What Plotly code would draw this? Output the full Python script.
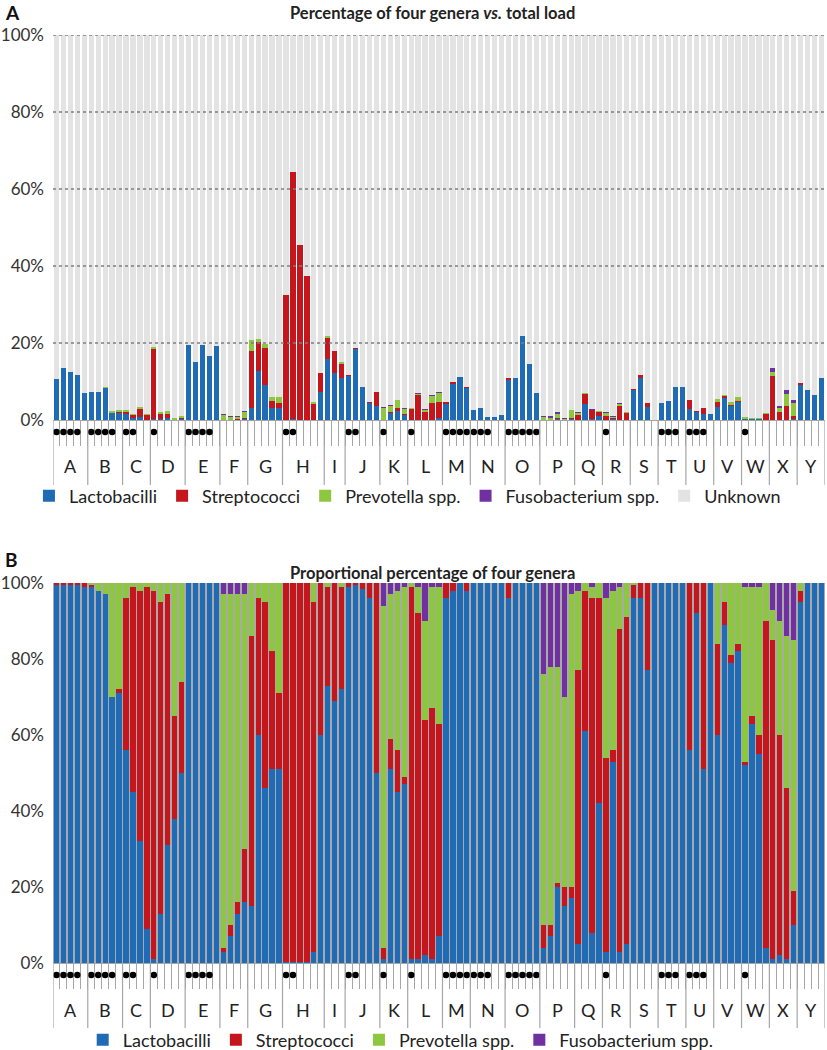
import plotly.graph_objects as go

# ---------------- data ----------------
groups = list("ABCDEFGHIJKLMNOPQRSTUVWXY")
group_sizes = [5, 5, 4, 5, 5, 4, 5, 6, 3, 5, 4, 5, 4, 5, 5, 5, 4, 4, 4, 4, 4, 4, 4, 4, 4]
dot_counts = [4, 4, 2, 1, 4, 0, 0, 2, 0, 2, 1, 1, 4, 3, 5, 0, 0, 1, 0, 3, 3, 0, 1, 0, 0]

y_ticks = [0, 20, 40, 60, 80, 100]
y_tick_labels = ["0%", "20%", "40%", "60%", "80%", "100%"]

# Panel A: percentage of total load
top_lacto = [10.7, 13.6, 12.5, 11.7, 7.0,
             7.4, 7.4, 8.5, 1.7, 1.9,
             1.6, 0.5, 0.9, 0.1,
             0.2, 0.3, 0.6, 0.15, 0.5,
             19.4, 15.0, 19.4, 16.6, 19.2,
             0.05, 0.07, 0.12, 0.3,
             3.1, 12.7, 9.1, 3.1, 3.1,
             0.05, 0.2, 0.1, 0.1, 0.1, 7.4,
             15.9, 12.3, 10.8,
             11.6, 18.7, 8.6, 4.6, 3.6,
             0.02, 1.9, 2.4, 1.4,
             0.02, 0.1, 0.05, 0.05, 0.5,
             4.4, 9.6, 11.1, 8.5,
             2.6, 3.2, 0.9, 0.7, 1.3,
             10.4, 10.9, 21.8, 14.6, 6.9,
             0.05, 0.05, 0.4, 0.1, 0.45,
             0.1, 4.2, 0.2, 1.0,
             0.05, 0.5, 0.1, 0.1,
             7.8, 11.1, 3.3, 0.1,
             4.5, 4.9, 8.7, 8.5,
             2.9, 2.2, 1.6, 1.5,
             3.3, 5.9, 3.7, 4.9,
             0.45, 0.3, 0.3, 0.05,
             0.05, 0.05, 0.05, 0.5,
             9.1, 7.7, 6.4, 10.8]
top_strep = [0, 0, 0, 0, 0,
             0, 0, 0, 0, 0.1,
             0.5, 0.9, 2.2, 1.3,
             18.3, 1.4, 1.2, 0.1, 0.2,
             0, 0, 0, 0, 0,
             0.02, 0.03, 0.03, 0.3,
             14.8, 7.6, 9.7, 1.9, 1.2,
             32.5, 64.3, 45.4, 37.4, 4.3, 4.9,
             5.6, 5.5, 4.0,
             0.1, 0.1, 0.1, 0.2, 3.6,
             0.1, 0.3, 0.6, 0.05,
             3.0, 6.4, 2.1, 4.3, 4.1,
             0.2, 0.2, 0, 0.2,
             0, 0, 0, 0, 0,
             0.5, 0, 0, 0, 0,
             0.03, 0.02, 0.02, 0.03, 0.08,
             1.4, 2.6, 2.5, 1.3,
             1.0, 0.05, 3.6, 1.9,
             0.3, 0.5, 1.0, 0,
             0, 0, 0, 0,
             2.3, 0.2, 1.5, 0,
             1.3, 0.4, 0.1, 0.1,
             0.01, 0.01, 0.03, 1.6,
             11.3, 2.0, 3.5, 0.5,
             0.5, 0, 0, 0]
top_prevo = [0, 0, 0, 0, 0,
             0, 0, 0.2, 0.7, 0.7,
             0.5, 0.05, 0.2, 0.05,
             0.4, 0.4, 0.5, 0.15, 0.3,
             0, 0, 0, 0, 0,
             1.4, 0.8, 0.75, 1.6,
             3.0, 0.8, 1.0, 1.1, 1.8,
             0, 0, 0, 0, 0.3, 0,
             0.2, 0, 0.2,
             0, 0, 0, 0, 0,
             3.0, 1.6, 2.2, 1.5,
             0.02, 0.5, 0.7, 2.1, 2.6,
             0, 0, 0, 0,
             0, 0, 0, 0, 0,
             0, 0, 0, 0, 0,
             0.7, 0.7, 1.2, 0.3, 2.1,
             0.5, 0.1, 0.1, 0.1,
             0.8, 0.4, 0.6, 0.2,
             0.05, 0, 0, 0,
             0, 0, 0, 0,
             0, 0, 0, 0,
             0.9, 0.3, 0.9, 0.9,
             0.4, 0.15, 0.25, 0.2,
             1.1, 1.3, 3.1, 3.3,
             0, 0, 0, 0]
top_fuso = [0, 0, 0, 0, 0,
            0, 0, 0, 0, 0,
            0, 0, 0, 0,
            0, 0, 0, 0, 0,
            0, 0, 0, 0, 0,
            0.05, 0.03, 0.03, 0.05,
            0, 0, 0, 0, 0,
            0, 0, 0, 0, 0, 0,
            0, 0, 0,
            0, 0, 0, 0, 0,
            0.2, 0.1, 0.1, 0.05,
            0, 0.05, 0.05, 0.1, 0.1,
            0, 0, 0, 0,
            0, 0, 0, 0, 0,
            0, 0, 0, 0, 0,
            0.2, 0.2, 0.5, 0.2, 0.08,
            0.05, 0, 0.05, 0,
            0.1, 0.02, 0.05, 0,
            0, 0, 0, 0,
            0, 0, 0, 0,
            0, 0, 0, 0,
            0, 0, 0, 0,
            0, 0, 0, 0,
            1.1, 0.4, 1.1, 0.9,
            0, 0, 0, 0]

# Panel B: proportional percentage of four genera
bot_lacto = [99.5, 99.6, 99.4, 99.5, 99,
             99, 98, 97, 70, 71,
             56, 45, 32, 9,
             1, 13, 31, 38, 50,
             100, 100, 100, 100, 100,
             3, 7, 13, 16,
             15, 60, 46, 51, 51,
             0.2, 0.3, 0.3, 0.3, 3, 60,
             73, 69, 72,
             99, 99.5, 98.5, 96, 50,
             1, 51, 45, 47,
             1, 1, 2, 1, 7,
             96, 98, 100, 98,
             100, 100, 100, 100, 100,
             96, 100, 100, 100, 100,
             4, 7, 20, 15, 17,
             5, 61, 8, 42,
             3, 53, 3, 5,
             96, 96, 77, 100,
             100, 100, 100, 100,
             56, 92, 51, 100,
             60, 89, 79, 82,
             52, 63, 55, 4,
             1, 2, 1, 10,
             95, 100, 100, 100]
bot_strep = [0.5, 0.4, 0.6, 0.5, 1,
             0.5, 0, 0, 0, 1,
             40, 54, 66, 90,
             97, 82, 66, 27, 24,
             0, 0, 0, 0, 0,
             1, 3, 3, 14,
             71, 36, 49, 31, 20,
             99.8, 99.7, 99.7, 99.7, 92, 40,
             26, 31, 27,
             1, 0.5, 1.5, 4, 50,
             3, 8, 11, 2,
             98, 91, 62, 66, 56,
             4, 2, 0, 2,
             0, 0, 0, 0, 0,
             4, 0, 0, 0, 0,
             6, 3, 1, 5, 3,
             72, 37, 88, 54,
             51, 3, 85, 86,
             3.5, 4, 23, 0,
             0, 0, 0, 0,
             44, 8, 49, 0,
             24, 6, 2, 2,
             1, 2, 5, 86,
             84, 58, 45, 9,
             3, 0, 0, 0]
bot_prevo = [0, 0, 0, 0, 0,
             0.5, 2, 3, 30, 28,
             4, 1, 2, 1,
             2, 5, 3, 35, 26,
             0, 0, 0, 0, 0,
             93, 87, 81, 67,
             14, 4, 5, 18, 29,
             0, 0, 0, 0, 5, 0,
             1, 0, 1,
             0, 0, 0, 0, 0,
             90, 38, 42, 50,
             1, 7, 26, 32, 36,
             0, 0, 0, 0,
             0, 0, 0, 0, 0,
             0, 0, 0, 0, 0,
             66, 68, 57, 50, 77,
             21, 2, 3, 4,
             42, 42, 11, 9,
             0.5, 0, 0, 0,
             0, 0, 0, 0,
             0, 0, 0, 0,
             16, 5, 19, 16,
             46, 34, 39, 10,
             8, 30, 40, 66,
             2, 0, 0, 0]
bot_fuso = [0, 0, 0, 0, 0,
            0, 0, 0, 0, 0,
            0, 0, 0, 0,
            0, 0, 0, 0, 0,
            0, 0, 0, 0, 0,
            3, 3, 3, 3,
            0, 0, 0, 0, 0,
            0, 0, 0, 0, 0, 0,
            0, 0, 0,
            0, 0, 0, 0, 0,
            6, 3, 2, 1,
            0, 1, 10, 1, 1,
            0, 0, 0, 0,
            0, 0, 0, 0, 0,
            0, 0, 0, 0, 0,
            24, 22, 22, 30, 3,
            2, 0, 1, 0,
            4, 2, 1, 0,
            0, 0, 0, 0,
            0, 0, 0, 0,
            0, 0, 0, 0,
            0, 0, 0, 0,
            1, 1, 1, 0,
            7, 10, 14, 15,
            0, 0, 0, 0]

series_names = ["Lactobacilli", "Streptococci", "Prevotella spp.", "Fusobacterium spp.", "Unknown"]
series_colors = ["#1F6BB5", "#C4161C", "#8DC63F", "#7030A0", "#E3E3E3"]

# ---------------- figure ----------------
W, H = 827, 1050
n_bars = len(top_lacto)
xs = list(range(n_bars))
top_unknown = [max(0.0, 100 - (a + b + c + d)) for a, b, c, d in zip(top_lacto, top_strep, top_prevo, top_fuso)]

x_left, x_right = 53, 825
top_y0, top_y1 = 35, 420
bot_y0, bot_y1 = 583, 963
top_h = top_y1 - top_y0
bot_h = bot_y1 - bot_y0


def dom(y0, y1):
    return [1 - y1 / H, 1 - y0 / H]


fig = go.Figure()

top_sets = [top_lacto, top_strep, top_prevo, top_fuso, top_unknown]
for name, vals, col in zip(series_names, top_sets, series_colors):
    fig.add_trace(go.Bar(x=xs, y=vals, name=name, marker=dict(color=col, line=dict(width=0)),
                         xaxis="x", yaxis="y", legend="legend", hoverinfo="skip"))

bot_sets = [bot_lacto, bot_strep, bot_prevo, bot_fuso]
for name, vals, col in zip(series_names[:4], bot_sets, series_colors[:4]):
    fig.add_trace(go.Bar(x=xs, y=vals, name=name, marker=dict(color=col, line=dict(width=0)),
                         xaxis="x2", yaxis="y2", legend="legend2", hoverinfo="skip"))

# dots under bars, drawn on thin helper axes
dot_x = []
starts = []
start = 0
for size, k in zip(group_sizes, dot_counts):
    starts.append(start)
    dot_x.extend(range(start, start + k))
    start += size

fig.add_trace(go.Scatter(x=dot_x, y=[0.5] * len(dot_x), mode="markers",
                         marker=dict(color="black", size=6.5), showlegend=False,
                         xaxis="x", yaxis="y3", hoverinfo="skip"))
fig.add_trace(go.Scatter(x=dot_x, y=[0.5] * len(dot_x), mode="markers",
                         marker=dict(color="black", size=6.5), showlegend=False,
                         xaxis="x2", yaxis="y4", hoverinfo="skip"))

grey = "#A6A6A6"
minor_ticks = [i + 0.5 for i in range(n_bars - 1)]
xaxis_common = dict(range=[-0.5, n_bars - 0.5], domain=[x_left / W, x_right / W],
                    tickvals=minor_ticks, ticktext=[""] * len(minor_ticks), ticks="outside",
                    ticklen=25, tickcolor=grey, tickwidth=1, showline=True, linecolor=grey,
                    linewidth=1, showgrid=False, zeroline=False, fixedrange=True, automargin=False)
yaxis_common = dict(range=[0, 100], tickvals=y_ticks, ticktext=y_tick_labels, showgrid=False,
                    zeroline=False, showline=False, ticks="", tickfont=dict(size=17, color="#333333"),
                    ticklabelstandoff=8, fixedrange=True, automargin=False)

fig.update_layout(
    width=W, height=H,
    margin=dict(l=0, r=0, t=0, b=0, pad=0, autoexpand=False),
    paper_bgcolor="white", plot_bgcolor="rgba(0,0,0,0)",
    barmode="stack", bargap=0.24,
    font=dict(family="Lato, 'Open Sans', sans-serif", color="#222222"),
    xaxis=dict(anchor="y", **xaxis_common),
    xaxis2=dict(anchor="y2", **xaxis_common),
    yaxis=dict(anchor="x", domain=dom(top_y0, top_y1), **yaxis_common),
    yaxis2=dict(anchor="x2", domain=dom(bot_y0, bot_y1), **yaxis_common),
    yaxis3=dict(anchor="x", domain=dom(top_y1 + 6, top_y1 + 18), range=[0, 1], visible=False,
                fixedrange=True),
    yaxis4=dict(anchor="x2", domain=dom(bot_y1 + 6, bot_y1 + 18), range=[0, 1], visible=False,
                fixedrange=True),
    legend=dict(orientation="h", x=0.035, y=1 - 496 / H, xanchor="left", yanchor="middle",
                font=dict(size=18, color="#222222"), itemwidth=30, traceorder="normal",
                bgcolor="rgba(0,0,0,0)"),
    legend2=dict(orientation="h", x=0.1, y=1 - 1040 / H, xanchor="left", yanchor="middle",
                 font=dict(size=18, color="#222222"), itemwidth=30, traceorder="normal",
                 bgcolor="rgba(0,0,0,0)"),
    showlegend=True,
)

shapes = []
for v in y_ticks[1:]:
    shapes.append(dict(type="line", xref="x domain", yref="y", x0=0, x1=1, y0=v, y1=v,
                       line=dict(color="#7F7F7F", width=1.5, dash="dot"), layer="above"))
shapes.append(dict(type="rect", xref="x2 domain", yref="y2 domain", x0=0, x1=1, y0=0, y1=1,
                   fillcolor="#A9A9A9", line=dict(width=0), layer="below"))
bounds = [s - 0.5 for s in starts] + [n_bars - 0.5]
for b in bounds:
    shapes.append(dict(type="line", xref="x", yref="y domain", x0=b, x1=b, y0=0, y1=-65 / top_h,
                       line=dict(color=grey, width=1.2)))
    shapes.append(dict(type="line", xref="x2", yref="y2 domain", x0=b, x1=b, y0=0, y1=-65 / bot_h,
                       line=dict(color=grey, width=1.2)))
fig.update_layout(shapes=shapes)

annotations = []
for g, s, size in zip(groups, starts, group_sizes):
    cx = s + (size - 1) / 2
    annotations.append(dict(text=g, x=cx, y=-46 / top_h, xref="x", yref="y domain", showarrow=False,
                            font=dict(size=18, color="#222222"), yanchor="middle"))
    annotations.append(dict(text=g, x=cx, y=-47 / bot_h, xref="x2", yref="y2 domain", showarrow=False,
                            font=dict(size=18, color="#222222"), yanchor="middle"))
annotations += [
    dict(text="<b>Percentage of four genera <i>vs.</i> total load</b>", x=432 / W, y=1 - 13 / H,
         xref="paper", yref="paper", showarrow=False, font=dict(size=16.5, color="#222222"),
         yanchor="middle"),
    dict(text="<b>Proportional percentage of four genera</b>", x=432 / W, y=1 - 573 / H,
         xref="paper", yref="paper", showarrow=False, font=dict(size=16.5, color="#222222"),
         yanchor="middle"),
    dict(text="<b>A</b>", x=3 / W, y=1 - 12 / H, xref="paper", yref="paper", showarrow=False,
         xanchor="left", yanchor="middle", font=dict(size=19, color="#111111")),
    dict(text="<b>B</b>", x=3 / W, y=1 - 559 / H, xref="paper", yref="paper", showarrow=False,
         xanchor="left", yanchor="middle", font=dict(size=19, color="#111111")),
]
fig.update_layout(annotations=annotations)

fig.write_html("out.html", config={"displayModeBar": False},
               post_script="document.body.style.margin='0';document.body.style.padding='0';")
